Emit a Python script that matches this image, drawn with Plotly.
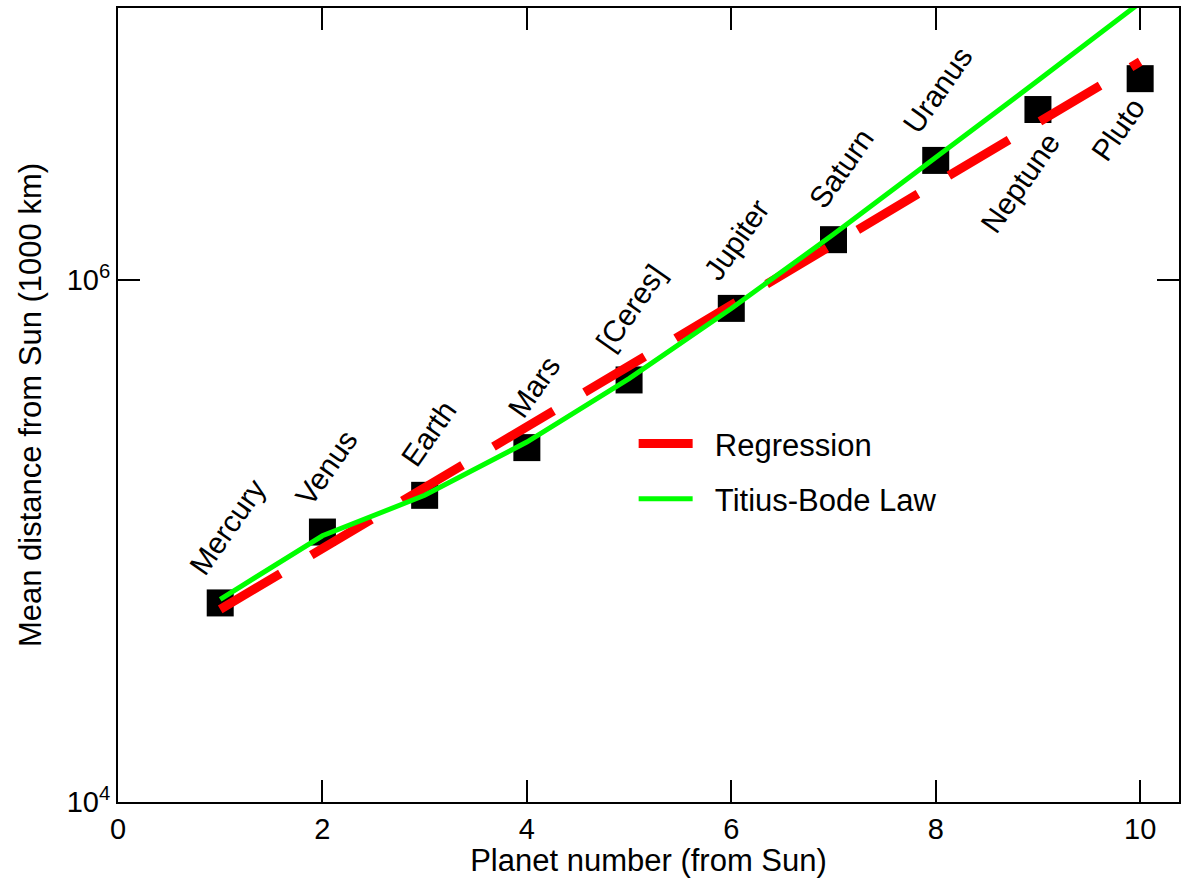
import numpy as np
import plotly.graph_objects as go

# ---- data ----
planet_number = [1, 2, 3, 4, 5, 6, 7, 8, 9, 10]
planet_names = ["Mercury", "Venus", "Earth", "Mars", "[Ceres]", "Jupiter",
                "Saturn", "Uranus", "Neptune", "Pluto"]
mean_distance = [57.9e3, 108.2e3, 149.6e3, 227.9e3, 414.0e3, 778.3e3,
                 1427.0e3, 2871.0e3, 4498.0e3, 5906.0e3]   # 1000 km
titius_bode = [59.8e3, 104.7e3, 149.6e3, 239.4e3, 418.9e3, 777.9e3,
               1496.0e3, 2932.1e3, 5804.4e3, 11549.0e3]   # 1000 km
regression_x = [1, 10]
regression_y = [5.47e4, 6.86e6]
y_tickvals = [1e4, 1e6]
y_ticktext = ["10<sup>4</sup>", "10<sup>6</sup>"]
x_tickvals = [0, 2, 4, 6, 8, 10]

# label placement (pixel offsets from each square)
label_dx = [-40, -36, -33, -28, -42, -37, -34, -42, -66, -58]
label_dy = [20, 18, 20, 21, 20, 20, 23, 19, -132, -91]

FONT = "Liberation Sans, Arial, Helvetica, sans-serif"
NB = "\u00a0\u00a0"

fig = go.Figure()
fig.add_trace(go.Scatter(
    x=planet_number, y=mean_distance, mode="markers",
    marker=dict(symbol="square", size=27, color="black", line=dict(width=0)),
    showlegend=False))
fig.add_trace(go.Scatter(
    x=regression_x, y=regression_y, mode="lines", name=NB + "Regression",
    line=dict(color="#ff0000", width=9, dash="70px,36px"),
    legendgroup="a"))
fig.add_trace(go.Scatter(
    x=planet_number, y=titius_bode, mode="lines", name=NB + "Titius-Bode Law",
    line=dict(color="#00ff00", width=5),
    legendgroup="b"))

for x, y, name, dx, dy in zip(planet_number, mean_distance, planet_names, label_dx, label_dy):
    fig.add_annotation(x=x, y=np.log10(y), text=name, showarrow=False,
                       textangle=-55, xanchor="left", yanchor="bottom",
                       xshift=dx, yshift=dy,
                       font=dict(family=FONT, size=30, color="black"))

axis_common = dict(showgrid=False, zeroline=False, showline=True, linecolor="black",
                   linewidth=2, mirror="ticks", ticks="inside", ticklen=22,
                   tickwidth=1.5, tickcolor="black",
                   tickfont=dict(family=FONT, size=29, color="black"))

fig.update_xaxes(range=[0, 10.38], tickvals=x_tickvals,
                 title=dict(text="Planet number (from Sun)",
                            font=dict(family=FONT, size=31, color="black"), standoff=4),
                 **axis_common)
fig.update_yaxes(type="log", range=[4, 7.042], tickvals=y_tickvals, ticktext=y_ticktext,
                 title=dict(text="Mean distance from Sun (1000 km)",
                            font=dict(family=FONT, size=31, color="black"), standoff=16),
                 **axis_common)

fig.update_layout(
    width=1181, height=878,
    margin=dict(l=118, r=0, t=8, b=76),
    plot_bgcolor="white", paper_bgcolor="white",
    legend=dict(x=0.486, y=0.485, xanchor="left", yanchor="top",
                bgcolor="rgba(0,0,0,0)", tracegroupgap=12, itemwidth=54,
                font=dict(family=FONT, size=31, color="black")),
)

fig.write_html("out.html", config={"displayModeBar": False},
               post_script="document.body.style.margin='0';document.body.style.overflow='hidden';")
